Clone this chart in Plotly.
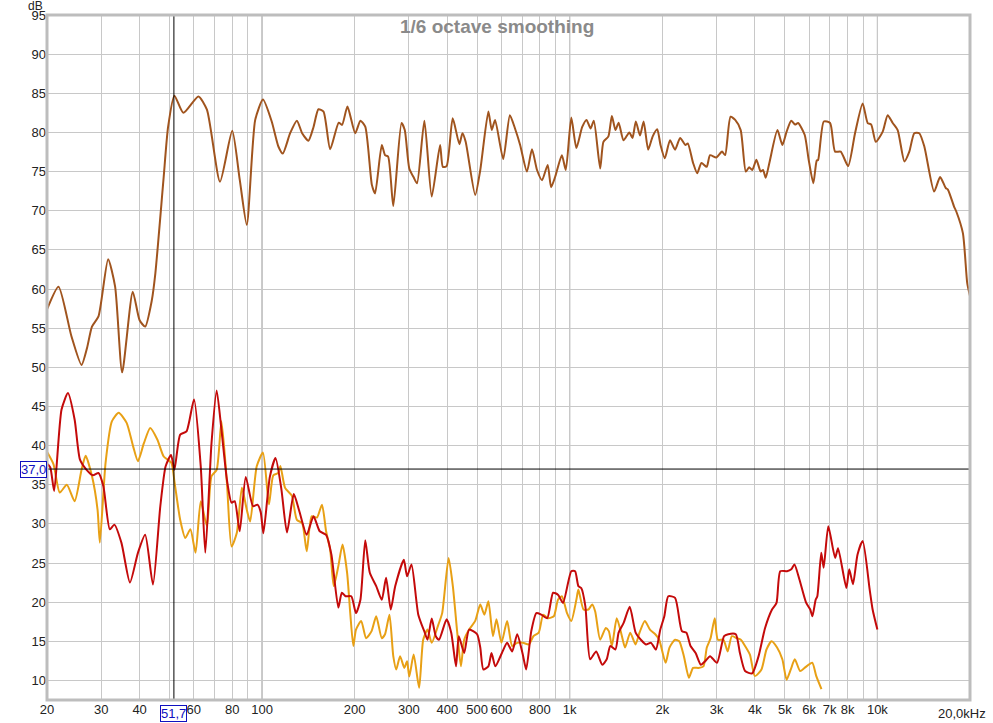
import numpy as np
import plotly.graph_objects as go

# ---------------- data ----------------
brown_f = [20, 21.8, 24.0, 25.9, 27.0, 28.0, 29.4, 31.6, 33.3, 35.1, 38.0, 40.0, 41.7, 43.8, 45, 47.8, 49.5,
           51.9, 55.5, 62.1, 66.2, 73.0, 80.0, 84.6, 89.2, 95, 100.7, 107.5, 113, 116.8, 123.4, 129.8, 135,
           141.5, 147, 152.5, 158.4, 166.5, 177.5, 182, 189.5, 200.8, 208.8, 216.5, 227.5, 233, 245, 251, 257,
           267, 284, 291, 301, 311.5, 319, 337, 356, 379, 387, 398, 416.6, 438, 448, 459, 493, 512, 544, 558,
           572, 608, 639, 664, 690, 726, 754, 783, 813, 848, 870, 898, 943, 971, 1012, 1051, 1098, 1134, 1169,
           1198, 1256, 1287, 1336, 1371, 1408, 1442, 1496, 1562, 1600, 1640, 1692, 1739, 1799, 1861, 1925,
           1973, 2038, 2118, 2200, 2285, 2375, 2420, 2518, 2596, 2680, 2788, 2858, 2994, 3126, 3200, 3332,
           3450, 3595, 3735, 3830, 3920, 4044, 4175, 4250, 4335, 4455, 4733, 4910, 5070, 5246, 5400, 5525,
           5803, 5980, 6192, 6350, 6420, 6696, 7020, 7285, 7600, 8035, 8460, 8956, 9300, 9550, 9880, 10408,
           10800, 11215, 11640, 12240, 12700, 13180, 13680, 14210, 15290, 15990, 16680, 16950, 17760, 18050,
           18970, 19590, 20000]
brown_db = [57.4, 60.3, 54.0, 50.3, 52.5, 55.2, 56.5, 63.8, 60.3, 49.35, 59.65, 56.0, 55.2, 58.5, 62.0, 73.9,
            80.7, 84.7, 82.5, 84.6, 82.9, 73.7, 80.2, 74.0, 68.2, 81.6, 84.2, 81.4, 78.2, 77.3, 79.9, 81.5, 79.9,
            78.95, 80.7, 82.96, 82.66, 77.85, 81.25, 80.96, 83.3, 79.9, 81.5, 80.74, 73.3, 72.2, 78.4, 77.1,
            76.9, 70.6, 81.2, 80.3, 75.4, 74.2, 73.5, 81.5, 71.8, 78.4, 75.6, 75.7, 81.8, 78.5, 79.9, 78.8,
            72.0, 75.2, 82.66, 80.3, 81.6, 76.6, 82.2, 80.5, 78.4, 75.0, 77.85, 75.2, 73.9, 75.85, 73.0, 74.4,
            77.1, 75.2, 81.9, 78.0, 80.7, 81.6, 80.5, 81.5, 75.4, 78.8, 79.5, 82.1, 80.3, 81.25, 79.0, 80.0,
            79.3, 81.4, 79.6, 81.4, 77.8, 79.5, 80.4, 78.4, 76.7, 79.0, 77.8, 79.3, 78.4, 78.6, 76.1, 74.8,
            76.1, 75.6, 77.1, 76.8, 77.55, 77.1, 82.0, 81.6, 80.3, 75.0, 75.55, 75.2, 76.5, 75.0, 75.2, 74.2,
            76.1, 80.3, 78.4, 80.1, 81.5, 81.0, 81.2, 79.7, 76.5, 73.5, 76.4, 76.5, 81.4, 81.2, 77.55, 77.55,
            75.7, 79.9, 83.7, 81.2, 81.0, 78.8, 80.1, 82.2, 81.2, 80.3, 76.3, 77.55, 79.9, 79.9, 78.2, 72.45,
            74.3, 72.9, 72.7, 70.5, 69.9, 67.1, 60.75, 59.1]

red_f = [20, 20.5, 21.1, 22.3, 23.4, 24.6, 25.6, 26.9, 28.2, 29.4, 30.5, 32.0, 33.1, 34.9, 37.2, 39.5, 41.7,
         44.2, 46.7, 48.6, 50.6, 51.9, 54.2, 56.8, 60.1, 63.2, 65.4, 68.5, 71.2, 73.8, 76.9, 79.6, 81.5, 84.6,
         88.5, 93.5, 96.6, 99, 101, 106, 110.6, 115.5, 120.5, 126.8, 132, 139.7, 147, 154, 161.5, 168, 177,
         181.7, 186.8, 195, 202, 208.8, 216.5, 224, 235, 245, 253, 262, 271, 289, 296, 306, 322, 338, 345,
         356, 367, 376, 398, 412, 427, 436, 454, 471, 500, 512, 524, 544, 557, 573, 602, 626, 650, 675, 702,
         722, 750, 779, 808, 845, 883, 916, 951, 1012, 1041, 1067, 1090, 1124, 1165, 1219, 1276, 1319, 1355,
         1408, 1442, 1497, 1567, 1638, 1703, 1769, 1837, 1906, 1970, 2030, 2091, 2200, 2315, 2394, 2470,
         2566, 2669, 2755, 2859, 3010, 3175, 3275, 3465, 3575, 3715, 3917, 4110, 4315, 4545, 4700, 4835,
         5085, 5250, 5375, 5580, 5870, 6050, 6150, 6300, 6380, 6570, 6690, 6925, 7290, 7450, 7930, 8100,
         8330, 8620, 8960, 9440, 9650, 10000]
red_db = [37.7, 37.2, 34.2, 44.6, 46.7, 43.3, 38.2, 36.9, 36.2, 36.5, 34.8, 29.3, 29.9, 27.6, 22.5, 26.3, 28.6,
          22.25, 32.25, 37.35, 38.8, 36.9, 41.4, 41.8, 45.9, 37.35, 26.3, 40.3, 47.05, 42.0, 35.6, 32.7, 32.9,
          29.05, 36.0, 32.25, 32.45, 31.5, 28.8, 36.0, 38.4, 34.5, 28.9, 33.8, 31.7, 28.6, 30.97, 29.05, 28.6,
          26.1, 19.3, 21.2, 20.75, 20.75, 18.6, 20.3, 27.9, 23.75, 22.05, 20.3, 23.1, 19.06, 22.05, 25.4, 23.3,
          24.8, 18.4, 16.1, 15.2, 17.9, 15.65, 15.2, 17.8, 16.1, 11.8, 15.65, 13.5, 16.5, 15.9, 14.2, 11.4,
          11.8, 13.5, 11.8, 13.5, 14.8, 13.7, 15.9, 13.5, 11.4, 16.3, 18.6, 18.4, 17.95, 21.2, 20.95, 19.9,
          23.95, 23.95, 22.05, 21.8, 19.5, 12.7, 13.7, 12.0, 12.7, 14.4, 13.95, 16.1, 17.35, 19.4, 16.1, 15.2,
          14.6, 14.8, 13.95, 16.5, 18.2, 20.75, 20.55, 16.3, 16.1, 14.4, 13.5, 12.0, 12.45, 13.1, 12.25, 15.65,
          15.9, 15.9, 13.5, 11.2, 10.9, 13.1, 16.7, 19.06, 19.9, 23.95, 23.95, 24.2, 24.8, 22.9, 19.9, 19.06,
          18.2, 20.3, 20.75, 26.3, 24.4, 29.7, 25.65, 26.9, 21.8, 24.2, 22.3, 26.1, 27.8, 21.6, 19.06, 16.5]

orange_f = [20, 21, 22, 23.2, 24.6, 25.9, 26.7, 28, 29.2, 29.7, 31, 32.5, 34.2, 36.3, 38.1, 39.5, 41.3, 43.3,
            45.7, 47.9, 50.7, 52, 54.2, 56.3, 58.5, 60.8, 63.2, 66.2, 68.5, 71.2, 73.8, 76.9, 79.6, 82.8, 86,
            89.2, 91.5, 96.1, 100.7, 105.3, 108.8, 113, 114.7, 118.8, 124.9, 129.8, 135, 139.7, 145, 150.8,
            156.6, 161.5, 166.5, 171, 177, 182.6, 189, 193.5, 198, 202, 210, 217.9, 227, 235, 245, 251, 259.5,
            267, 273, 281, 290, 296, 301, 311, 324, 334, 345, 356, 374, 385, 404, 417, 431, 443, 454, 471, 493,
            512, 528, 544, 563, 578, 600, 626, 650, 675, 705, 737, 762, 793, 820, 850, 888, 916, 943, 980, 1012,
            1051, 1067, 1109, 1150, 1183, 1210, 1256, 1310, 1340, 1371, 1422, 1478, 1513, 1573, 1636, 1686,
            1754, 1823, 1897, 1954, 2050, 2110, 2200, 2270, 2350, 2440, 2518, 2620, 2720, 2790, 2870, 2960,
            3030, 3160, 3260, 3365, 3490, 3600, 3715, 3852, 4000, 4200, 4360, 4530, 4720, 4910, 5070, 5230,
            5390, 5610, 5800, 6140, 6330, 6580]
orange_db = [39.2, 37.6, 34.0, 35.0, 32.9, 36.9, 38.7, 36.1, 31.8, 27.6, 37.8, 43.1, 44.2, 42.9, 39.9, 38.0,
             40.3, 42.25, 40.75, 38.6, 37.8, 35.2, 30.5, 28.2, 29.3, 26.3, 32.9, 29.7, 36.1, 36.9, 43.1, 35.2,
             27.1, 28.85, 34.6, 31.8, 30.3, 37.35, 39.1, 32.5, 36.2, 36.5, 37.4, 34.6, 33.6, 30.5, 30.1, 26.5,
             30.97, 30.8, 32.45, 29.05, 26.7, 22.05, 24.6, 27.35, 23.75, 18.6, 14.4, 16.5, 17.6, 15.4, 16.3,
             18.2, 15.4, 15.9, 18.4, 13.1, 11.4, 13.1, 11.6, 12.45, 10.5, 13.3, 9.06, 15.2, 16.5, 14.8, 17.1,
             18.6, 25.65, 22.05, 16.1, 11.8, 15.2, 16.5, 17.6, 19.7, 18.4, 20.1, 15.65, 17.8, 14.8, 17.6, 14.4,
             14.8, 14.8, 14.6, 15.65, 16.1, 18.4, 17.95, 18.2, 20.3, 20.75, 18.6, 17.6, 20.3, 21.6, 19.06, 19.06,
             19.7, 18.8, 15.2, 16.7, 16.3, 14.4, 17.95, 15.65, 14.2, 16.1, 14.6, 16.1, 17.6, 16.5, 15.9, 15.2,
             12.25, 14.2, 15.2, 15.0, 13.1, 10.35, 11.6, 11.6, 11.8, 14.2, 15.4, 17.95, 15.2, 15.2, 13.7, 15.65,
             15.4, 15.2, 14.4, 13.3, 10.55, 11.4, 13.95, 15.0, 14.2, 12.7, 10.1, 11.4, 12.7, 11.2, 11.6, 12.25,
             10.55, 8.9]

x_tick_vals = [20, 30, 40, 60, 80, 100, 200, 300, 400, 500, 600, 800, 1000, 2000, 3000, 4000, 5000, 6000,
               7000, 8000, 10000, 20000]
x_tick_text = ["20", "30", "40", "60", "80", "100", "200", "300", "400", "500", "600", "800", "1k", "2k",
               "3k", "4k", "5k", "6k", "7k", "8k", "10k", ""]
x_end_label = "20,0kHz"
x_minor_grid = [50, 70, 90, 700, 900, 9000]
x_decades = [100, 1000, 10000]
y_tick_vals = list(range(10, 96, 5))

cursor_freq = 51.7
cursor_db = 37.0

# ---------------- figure ----------------
fig = go.Figure()
line_common = dict(width=2, shape="spline", smoothing=0.6)
fig.add_trace(go.Scatter(x=brown_f, y=brown_db, mode="lines",
                         line=dict(color="#A0541E", **line_common), showlegend=False))
fig.add_trace(go.Scatter(x=orange_f, y=orange_db, mode="lines",
                         line=dict(color="#E8A015", **line_common), showlegend=False))
fig.add_trace(go.Scatter(x=red_f, y=red_db, mode="lines",
                         line=dict(color="#C40A0A", **line_common), showlegend=False))

grid_light = "#C8C8C8"
shapes = []
for d in x_decades:
    shapes.append(dict(type="line", xref="x", yref="paper", x0=d, x1=d, y0=0, y1=1,
                       line=dict(color="#8C8C8C", width=1), layer="below"))
# cursor lines
shapes.append(dict(type="line", xref="x", yref="paper", x0=cursor_freq, x1=cursor_freq,
                   y0=0, y1=1, line=dict(color="black", width=1), layer="above"))
shapes.append(dict(type="line", xref="paper", yref="y", x0=0, x1=1, y0=cursor_db, y1=cursor_db,
                   line=dict(color="black", width=1), layer="above"))
# frame
shapes.append(dict(type="rect", xref="paper", yref="paper", x0=0, x1=1, y0=0, y1=1,
                   line=dict(color="#BDBDBD", width=3), layer="above"))

font_family = "Liberation Sans, Arial, sans-serif"
annotations = [
    dict(text="<b>1/6 octave smoothing</b>", xref="paper", yref="paper", x=0.4875, y=0.9825,
         xanchor="center", yanchor="middle", showarrow=False,
         font=dict(family=font_family, size=19, color="#8A8A8A")),
    dict(text="dB", xref="paper", yref="paper", x=-0.013, y=1.0, yshift=9, xanchor="center",
         yanchor="middle", showarrow=False, font=dict(family=font_family, size=12, color="#222222")),
    dict(text=x_end_label, xref="paper", yref="paper", x=1.0, xshift=18, y=0, yshift=-13,
         xanchor="right", yanchor="middle", showarrow=False,
         font=dict(family=font_family, size=13, color="#222222")),
    dict(text="37,0", xref="paper", yref="y", x=0, y=cursor_db, xanchor="right", yanchor="middle",
         showarrow=False, bgcolor="white", bordercolor="#1010C0", borderwidth=1, borderpad=0,
         font=dict(family=font_family, size=13, color="#1010C0")),
    dict(text="51,7", xref="x", yref="paper", x=np.log10(cursor_freq), y=0, xanchor="center", yanchor="middle",
         yshift=-13, showarrow=False, bgcolor="white", bordercolor="#1010C0", borderwidth=1, borderpad=0,
         font=dict(family=font_family, size=13, color="#1010C0")),
]

fig.update_layout(
    width=993, height=723,
    margin=dict(l=47, r=23, t=15, b=23, autoexpand=False),
    paper_bgcolor="white", plot_bgcolor="white",
    shapes=shapes, annotations=annotations,
    font=dict(family=font_family, size=13, color="#222222"),
    xaxis=dict(type="log", range=[np.log10(20), np.log10(20000)], tickmode="array",
               tickvals=x_tick_vals, ticktext=x_tick_text, showgrid=True, gridcolor=grid_light,
               gridwidth=1, zeroline=False, showline=False, ticks="", automargin=False,
               minor=dict(tickmode="array", tickvals=x_minor_grid, showgrid=True, gridcolor=grid_light,
                          ticks=""),
               tickfont=dict(family=font_family, size=13, color="#222222")),
    yaxis=dict(range=[7.5, 95], tickmode="array", tickvals=y_tick_vals, showgrid=True, automargin=False,
               gridcolor=grid_light, gridwidth=1, zeroline=False, showline=False, ticks="",
               tickfont=dict(family=font_family, size=13, color="#222222")),
)

fig.write_html("out.html")
